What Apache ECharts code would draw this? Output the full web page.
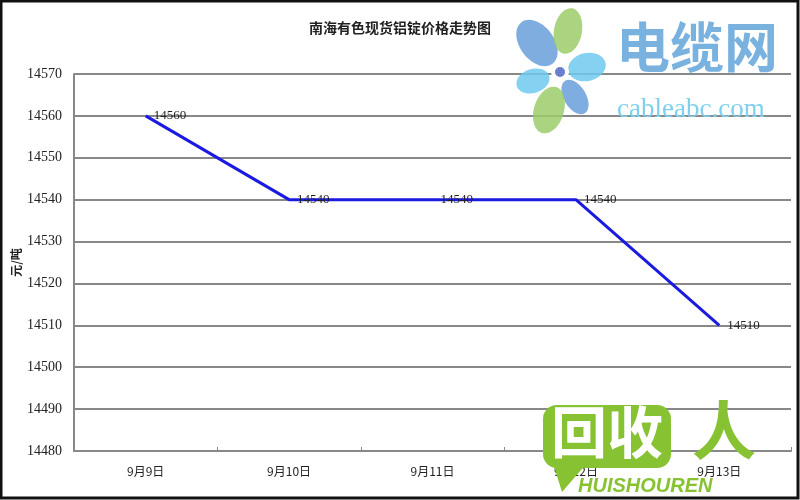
<!DOCTYPE html>
<html><head><meta charset="utf-8">
<script src="https://cdn.jsdelivr.net/npm/echarts@6/dist/echarts.min.js"></script>
<style>html,body{margin:0;padding:0;background:#fff}#c{width:800px;height:500px}</style>
</head><body><div id="c"></div>
<script>
const title = '南海有色现货铝锭价格走势图';
const categories = ['9月9日', '9月10日', '9月11日', '9月12日', '9月13日'];
const prices = [14560, 14540, 14540, 14540, 14510];
const yMin = 14480, yMax = 14570, yStep = 10;
const yName = '元/吨';

const chart = echarts.init(document.getElementById('c'));
const petal = (cx, cy, rx, ry, rot, color) => ({
  type: 'ellipse', shape: {cx: 0, cy: 0, rx: rx, ry: ry}, x: cx, y: cy, rotation: rot,
  style: {fill: color, opacity: 0.85}, z: 10
});
chart.setOption({
  animation: false,
  backgroundColor: '#fff',
  title: {text: title, left: 'center', top: 16,
    textStyle: {fontFamily: 'Noto Sans CJK SC', fontSize: 14, fontWeight: 'bold', color: '#222'}},
  grid: {left: 74, right: 9, top: 74, bottom: 49, containLabel: false, outerBoundsMode: 'none'},
  xAxis: {type: 'category', data: categories, boundaryGap: true,
    axisLine: {lineStyle: {color: '#888', width: 2}},
    axisTick: {show: true, inside: true, length: 4, lineStyle: {color: '#888'}},
    axisLabel: {color: '#222', fontFamily: 'Noto Sans CJK SC', fontSize: 12, margin: 14}},
  yAxis: {type: 'value', min: yMin, max: yMax, interval: yStep,
    name: yName, nameLocation: 'middle', nameGap: 52, nameRotate: 90, nameMoveOverlap: false,
    nameTextStyle: {fontFamily: 'Noto Sans CJK SC', fontSize: 12, fontWeight: 'bold', color: '#222'},
    axisLine: {show: true, lineStyle: {color: '#888', width: 2}},
    axisTick: {show: false},
    axisLabel: {color: '#222', fontFamily: 'Liberation Serif', fontSize: 14, margin: 12,
      formatter: v => String(v)},
    splitLine: {lineStyle: {color: '#888', width: 2}}},
  series: [{type: 'line', data: prices, symbol: 'circle', symbolSize: 2, showSymbol: true,
    itemStyle: {color: 'rgba(0,0,0,0)', borderWidth: 0},
    lineStyle: {color: '#1a1ae0', width: 3},
    label: {show: true, position: 'right', distance: 7, color: '#222', opacity: 1,
      fontFamily: 'Liberation Serif', fontSize: 13, formatter: p => String(p.value)}}],
  graphic: [
    {type: 'rect', shape: {x: 1, y: 1, width: 797, height: 497},
      style: {fill: 'none', stroke: '#111', lineWidth: 3}, z: 20},
    // cable logo
    petal(537, 43, 17, 26, 0.64, '#6a9fda'),
    petal(568, 31, 14, 23, -0.18, '#9ccc6a'),
    petal(587, 67, 14, 19, -1.35, '#6fc9ef'),
    petal(575, 97, 11, 19, -2.6, '#6a9fda'),
    petal(549, 110, 15, 24, 2.84, '#9ccc6a'),
    petal(533, 81, 12, 17, 1.88, '#6fc9ef'),
    {type: 'circle', shape: {cx: 560, cy: 72, r: 9}, style: {fill: '#fff'}, z: 11},
    {type: 'circle', shape: {cx: 560, cy: 72, r: 5}, style: {fill: '#6a7fcf'}, z: 12},
    {type: 'text', x: 616, y: 20, z: 10, style: {text: '电缆网', fill: '#6aa8dc', opacity: 0.9,
      font: 'bold 54px "Noto Sans CJK SC"'}},
    {type: 'text', x: 617, y: 96, z: 10, style: {text: 'cableabc.com', fill: '#7fd0ee',
      font: '27px "Liberation Serif"'}},
    // huishouren logo
    {type: 'rect', shape: {x: 543, y: 405, width: 128, height: 63, r: 14}, style: {fill: '#86c232'}, z: 10},
    {type: 'polygon', shape: {points: [[552, 460], [588, 462], [562, 492]]}, style: {fill: '#86c232'}, z: 10},
    {type: 'text', x: 551, y: 404, z: 11, style: {text: '回收', fill: '#fff',
      font: 'bold 56px "Noto Sans CJK SC"'}},
    {type: 'text', x: 692, y: 398, z: 11, style: {text: '人', fill: '#86c232',
      font: 'bold 64px "Noto Sans CJK SC"'}},
    {type: 'text', x: 578, y: 476, z: 11, style: {text: 'HUISHOUREN', fill: '#86c232',
      font: 'italic bold 20px "Liberation Sans"'}}
  ]
});
</script></body></html>
